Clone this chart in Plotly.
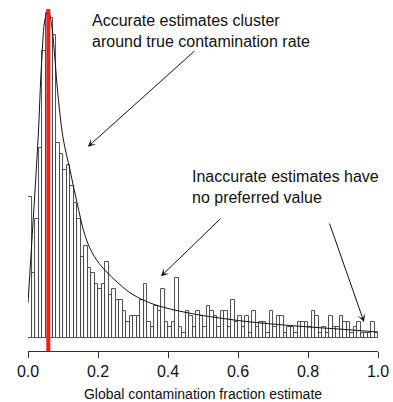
import plotly.graph_objects as go

# Histogram of global contamination fraction estimates (100 bins of width 0.01)
bin_width = 0.01
counts = [26, 12, 22, 35, 53, 60, 59, 56, 36, 34,
          31, 32, 28, 25, 22, 15, 17, 13, 12, 10,
          9, 10, 14, 8, 9, 7, 7, 5, 3, 4,
          4, 4, 7, 10, 3, 2, 6, 5, 9, 3,
          2, 3, 11, 2, 1, 5, 4, 2, 5, 4,
          2, 6, 5, 4, 2, 5, 5, 2, 7, 3,
          4, 2, 4, 1, 5, 2, 3, 3, 1, 5,
          2, 4, 4, 1, 2, 2, 1, 3, 3, 3,
          2, 5, 4, 1, 2, 1, 4, 2, 2, 4,
          3, 3, 1, 2, 3, 1, 1, 1, 3, 1]
bin_centers = [bin_width * (i + 0.5) for i in range(len(counts))]

# Fitted density curve (scaled to counts)
curve_x = [0.0, 0.015, 0.029, 0.039, 0.049, 0.058, 0.067, 0.075, 0.084, 0.1,
           0.12, 0.14, 0.165, 0.19, 0.22, 0.26, 0.3, 0.36, 0.46, 0.58,
           0.66, 0.79, 0.9, 1.0]
curve_y = [6.5, 22, 37, 51, 59, 60.5, 58, 53, 46, 37,
           31, 25, 18.5, 15, 12.5, 10, 8, 6.2, 4.6, 3.4,
           2.8, 2.1, 1.6, 1.1]

true_rate = 0.058

tick_vals = [0.0, 0.2, 0.4, 0.6, 0.8, 1.0]
tick_text = ["0.0", "0.2", "0.4", "0.6", "0.8", "1.0"]

FONT = "Liberation Sans, Arial, Helvetica, sans-serif"
INK = "#111111"

fig = go.Figure()

fig.add_trace(go.Bar(
    x=bin_centers, y=counts, width=bin_width,
    marker=dict(color="white", line=dict(color="#3a3a3a", width=0.9)),
    hoverinfo="skip", showlegend=False,
))

fig.add_trace(go.Scatter(
    x=curve_x, y=curve_y, mode="lines",
    line=dict(color=INK, width=1, shape="spline", smoothing=1.0),
    hoverinfo="skip", showlegend=False,
))

# True contamination rate
fig.add_shape(type="line", xref="x", yref="paper",
              x0=true_rate, x1=true_rate, y0=0, y1=1,
              line=dict(color="#ff1a1a", width=4))

# Explanatory labels
fig.add_annotation(x=0.177, y=56.6, xref="x", yref="y",
                   text="Accurate estimates cluster<br>around true contamination rate",
                   showarrow=False, xanchor="left", yanchor="middle", align="left",
                   font=dict(family=FONT, size=16, color=INK))
fig.add_annotation(x=0.462, y=27.8, xref="x", yref="y",
                   text="Inaccurate estimates have<br>no preferred value",
                   showarrow=False, xanchor="left", yanchor="middle", align="left",
                   font=dict(family=FONT, size=16, color=INK))

# Arrows
arrow_style = dict(showarrow=True, text="", arrowhead=3, arrowsize=1.3,
                   arrowwidth=1, arrowcolor=INK, xref="x", yref="y")
fig.add_annotation(x=0.171, y=35.3, ax=108, ay=-97, **arrow_style)
fig.add_annotation(x=0.38, y=11.4, ax=61, ay=-59, **arrow_style)
fig.add_annotation(x=0.96, y=2.95, ax=-35, ay=-100, **arrow_style)

fig.update_layout(
    width=393, height=402,
    margin=dict(l=28, r=15, t=9, b=51),
    paper_bgcolor="white", plot_bgcolor="white",
    bargap=0,
    font=dict(family=FONT, size=15, color=INK),
    xaxis=dict(
        range=[0, 1], tickvals=tick_vals, ticktext=tick_text,
        automargin=False,
        showgrid=False, zeroline=False,
        showline=True, linecolor="#333333", linewidth=1,
        ticks="outside", ticklen=6, tickwidth=1, tickcolor="#333333",
        tickfont=dict(family=FONT, size=16, color=INK),
        title=dict(text="Global contamination fraction estimate",
                   font=dict(family=FONT, size=14, color=INK), standoff=10),
    ),
    yaxis=dict(range=[-2.4, 60.74], visible=False, showgrid=False,
               zeroline=False, automargin=False),
)

fig.write_html("out.html")
